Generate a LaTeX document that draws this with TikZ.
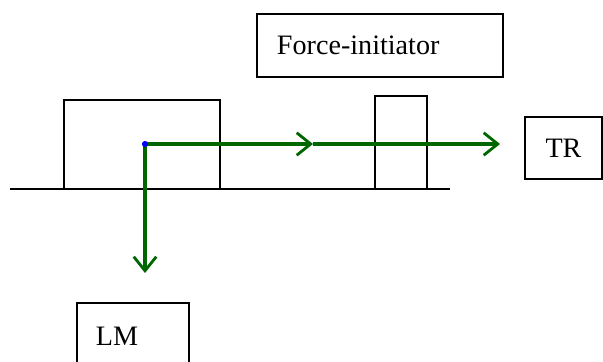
\documentclass[tikz,border=0pt]{standalone}
\usepackage{fontspec}
\setmainfont{Liberation Serif}
\usetikzlibrary{positioning,arrows.meta}

\begin{document}
\begin{tikzpicture}[
        x=0.025cm, y=-0.025cm,
        labelbox/.style={draw, line width=1.2pt, font=\fontsize{20}{22}\selectfont, inner ysep=0pt},
        block/.style={draw, line width=1.2pt, inner sep=0pt},
        force/.style={draw=green!40!black, line width=2.4pt, -{Straight Barb[length=10pt,width=16pt,line width=2pt]}}
    ]
    \useasboundingbox (0,0) rectangle (603,361);
    \clip (0,0) rectangle (603,361);

    % ground and bodies
    \coordinate (GL) at (10,189);
    \coordinate (GR) at (450,189);
    \draw[line width=1pt] (GL) -- (GR);
    \node[block, minimum width=3.9cm, minimum height=2.225cm] (body) at (142,144.5) {};
    \node[block, minimum width=1.3cm, minimum height=2.325cm] (wall) at (401,142.5) {};

    % labels
    \node[labelbox, text width=5.15cm, align=left, inner xsep=0.5cm, minimum height=1.575cm] (FI) at (380,45.5) {Force-initiator};
    \node[labelbox, minimum width=1.925cm, minimum height=1.55cm] (TR) at (563.5,148) {TR};
    \node[labelbox, text width=1.85cm, align=left, inner xsep=0.475cm, minimum height=1.675cm] (LM) at (133,336.5) {LM};

    % forces
    \coordinate (C) at (145,144);
    \coordinate (M) at (313,144);
    \coordinate (E) at (500,144);
    \coordinate (D) at (145,273);
    \draw[force] (C) -- (M);
    \draw[force] (M) -- (E);
    \draw[force] (C) -- (D);
    \fill[blue] (C) circle (2.2pt);
\end{tikzpicture}
\end{document}
